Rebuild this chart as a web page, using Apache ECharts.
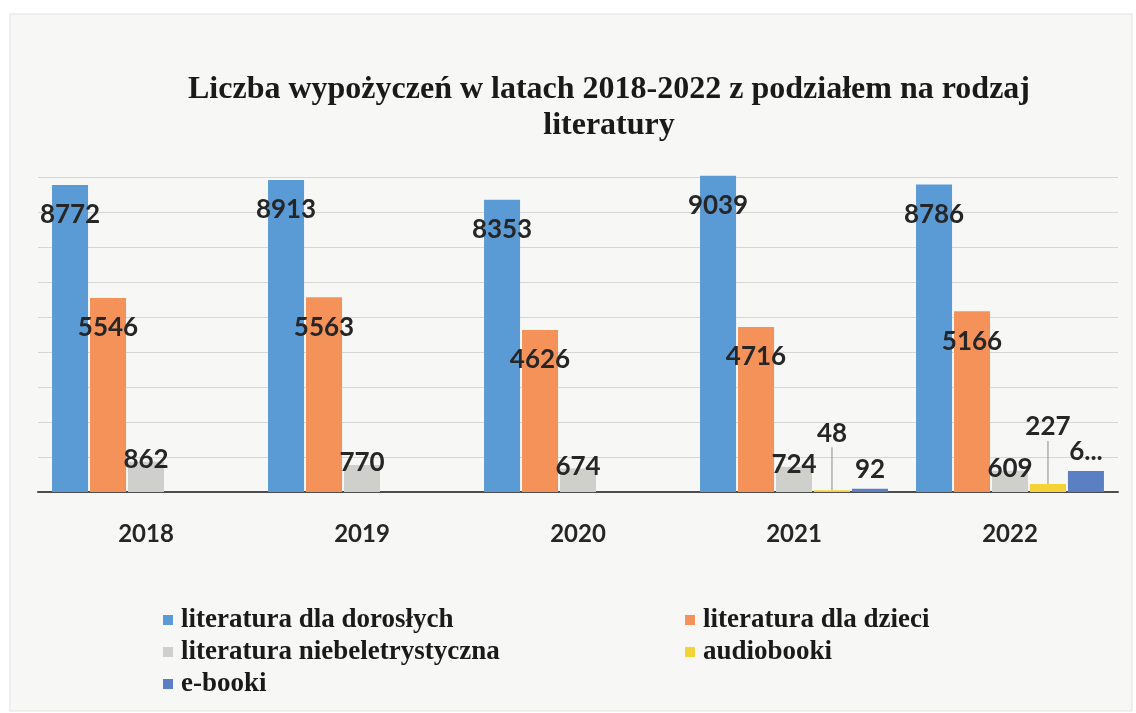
<!DOCTYPE html>
<html>
<head>
<meta charset="utf-8">
<title>Liczba wypożyczeń 2018-2022</title>
<script src="https://cdn.jsdelivr.net/npm/echarts@6/dist/echarts.min.js"></script>
<style>
  html, body { margin: 0; padding: 0; background: #ffffff; }
  #chart { width: 1136px; height: 713px; }
</style>
</head>
<body>
<div id="chart"></div>
<script>
// dane
const years = ['2018', '2019', '2020', '2021', '2022'];
const seriesNames = [
  'literatura dla dorosłych',
  'literatura dla dzieci',
  'literatura niebeletrystyczna',
  'audiobooki',
  'e-booki'
];
const adultBooks = [8772, 8913, 8353, 9039, 8786];
const childrenBooks = [5546, 5563, 4626, 4716, 5166];
const nonFiction = [862, 770, 674, 724, 609];
const audiobooks = [null, null, null, 48, 227];
const ebooks = [null, null, null, 92, 600];
const colors = ['#5b9bd5', '#f4925a', '#cfcfcb', '#f5d236', '#5a7fc2'];

const chart = echarts.init(document.getElementById('chart'));

const labelBase = {
  show: true,
  fontFamily: 'Lato',
  fontWeight: 'bold',
  fontSize: 26,
  lineHeight: 28,
  color: '#262626'
};

function barSeries(name, data, color, label, extra) {
  return Object.assign({
    name: name,
    type: 'bar',
    data: data,
    barWidth: 36,
    barGap: '5.5%',
    itemStyle: { color: color },
    label: Object.assign({}, labelBase, label)
  }, extra || {});
}

const legendText = {
  fontFamily: 'Liberation Serif',
  fontWeight: 'bold',
  fontSize: 27,
  lineHeight: 32,
  color: '#1a1a1a',
  padding: [0, 0, 0, 3]
};

const option = {
  backgroundColor: '#ffffff',
  animation: false,
  graphic: [{
    type: 'rect',
    shape: { x: 10, y: 14, width: 1122, height: 697 },
    style: { fill: '#f7f7f6', stroke: '#e2e2e2', lineWidth: 1 },
    z: -10
  }],
  title: {
    text: 'Liczba wypożyczeń w latach 2018-2022 z podziałem na rodzaj\nliteratury',
    left: 604,
    top: 67,
    textAlign: 'center',
    textStyle: {
      fontFamily: 'Liberation Serif',
      fontWeight: 'bold',
      fontSize: 32,
      lineHeight: 36,
      color: '#1a1a1a'
    }
  },
  legend: [{
    data: [seriesNames[0], seriesNames[2], seriesNames[4]],
    orient: 'vertical',
    left: 163,
    top: 604,
    padding: 0,
    itemGap: 0,
    itemWidth: 10,
    itemHeight: 10,
    icon: 'rect',
    textStyle: legendText
  }, {
    data: [seriesNames[1], seriesNames[3]],
    orient: 'vertical',
    left: 685,
    top: 604,
    padding: 0,
    itemGap: 0,
    itemWidth: 10,
    itemHeight: 10,
    icon: 'rect',
    textStyle: legendText
  }],
  grid: {
    left: 38,
    right: 18,
    top: 142,
    bottom: 221
  },
  xAxis: {
    type: 'category',
    data: years,
    axisTick: { show: false },
    axisLine: { lineStyle: { color: '#4d4d4d', width: 2 } },
    axisLabel: {
      margin: 28,
      fontFamily: 'Lato',
      fontWeight: 'bold',
      fontSize: 24,
      lineHeight: 28,
      color: '#262626'
    }
  },
  yAxis: {
    type: 'value',
    min: 0,
    max: 10000,
    interval: 1000,
    axisLabel: { show: false },
    axisLine: { show: false },
    axisTick: { show: false },
    splitLine: {
      showMaxLine: false,
      lineStyle: { color: '#d6d6d6', width: 1 }
    }
  },
  series: [
    barSeries(seriesNames[0], adultBooks, colors[0], { position: 'insideTop', distance: 16 }),
    barSeries(seriesNames[1], childrenBooks, colors[1], { position: 'insideTop', distance: 16 }),
    barSeries(seriesNames[2], nonFiction, colors[2], { position: 'top', distance: 5, offset: [0, 17] }),
    barSeries(seriesNames[3], audiobooks, colors[3], { position: 'top', distance: 5 }, {
      labelLayout: { dy: -38 },
      labelLine: { show: true, lineStyle: { color: '#8c8c8c', width: 1 } }
    }),
    barSeries(seriesNames[4], ebooks, colors[4], {
      position: 'top',
      distance: 5,
      width: 38,
      overflow: 'truncate',
      ellipsis: '...'
    })
  ]
};

chart.setOption(option);
</script>
</body>
</html>
